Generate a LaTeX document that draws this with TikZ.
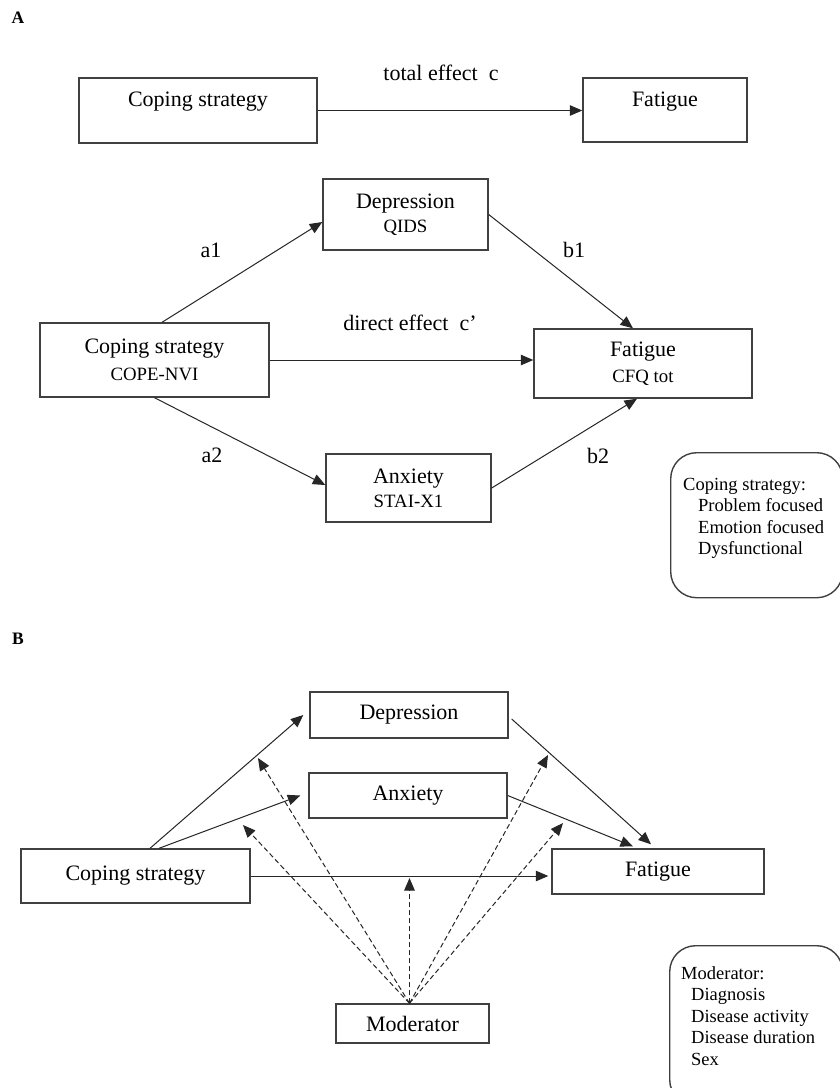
\documentclass[tikz,border=0pt]{standalone}
\usepackage{fontspec}
\setmainfont{Liberation Serif}
\usetikzlibrary{arrows.meta}

% type sizes used in the two panels
\newcommand\mainsize{\fontsize{22}{24}\selectfont}
\newcommand\subsize{\fontsize{18.8}{21}\selectfont}
\newcommand\legendsize{\fontsize{18.5}{21.4}\selectfont}

\tikzset{
  box/.style={draw=black!75, line width=1.4pt, inner sep=0pt, align=center, font=\mainsize},
  link/.style={draw=black!85, line width=1pt, -{Triangle[length=12.5pt,width=10.5pt]}},
  modlink/.style={link, dash pattern=on 5pt off 3pt},
  legendbox/.style={draw=black!75, line width=1.4pt, rounded corners=26pt, inner sep=0pt},
  legendtext/.style={font=\legendsize, align=left, inner sep=0pt, anchor=north west},
  lbl/.style={font=\mainsize, inner sep=0pt},
  panel/.style={font=\fontsize{17.5}{20}\selectfont\bfseries, inner sep=0pt}
}

\begin{document}
\begin{tikzpicture}[x=1pt,y=-1pt]
\useasboundingbox (0,0) rectangle (840,1088);
\fill[white] (0,0) rectangle (840,1088);

% ---------------- Panel A ----------------
\node[panel] (labA) at (18,18) {A};

% total effect
\node[box, minimum width=238, minimum height=65, text height=15pt, text depth=23pt] (copT) at (198,110.5) {Coping strategy};
\node[box, minimum width=164, minimum height=64, text height=15pt, text depth=23pt] (fatT) at (665,110) {Fatigue};
\draw[link] (copT.east) -- (copT.east -| fatT.west);
\node[lbl] (lblTot) at (441,73) {total effect\ \ c};

% mediation model
\node[box, minimum width=165, minimum height=71] (depA) at (405.5,214.5) {Depression\\{\subsize QIDS}};
\node[box, minimum width=229, minimum height=74] (copA) at (154.5,360) {Coping strategy\\[3pt]{\subsize COPE-NVI}};
\node[box, minimum width=218, minimum height=69] (fatA) at (643,363.5) {Fatigue\\[2pt]{\subsize CFQ tot}};
\node[box, minimum width=165, minimum height=68] (anxA) at (408.5,488) {Anxiety\\{\subsize STAI-X1}};

\draw[link] ([xshift=7.5pt]copA.north) -- ([yshift=-7.5pt]depA.west);
\draw[link] (copA.south) -- ([yshift=3pt]anxA.west);
\draw[link] (depA.east) -- ([xshift=-10pt]fatA.north);
\draw[link] (anxA.east) -- ([xshift=-6pt]fatA.south);
\draw[link] (copA.east) -- (copA.east -| fatA.west);

\node[lbl] (lblA1) at (211,250) {a1};
\node[lbl] (lblA2) at (212,455) {a2};
\node[lbl] (lblB1) at (574,250) {b1};
\node[lbl] (lblB2) at (598,456) {b2};
\node[lbl] (lblDir) at (410,323) {direct effect\ \ c’};

% legend
\node[legendbox, minimum width=172, minimum height=145, anchor=north west] (legA) at (670,452) {};
\node[legendtext] (legAtxt) at (683,478) {Coping strategy:\\\hspace*{15pt}Problem focused\\\hspace*{15pt}Emotion focused\\\hspace*{15pt}Dysfunctional};

% ---------------- Panel B ----------------
\node[panel] (labB) at (18,639) {B};

\node[box, minimum width=198, minimum height=46] (depB) at (409,715) {Depression};
\node[box, minimum width=198, minimum height=45] (anxB) at (408,795.5) {Anxiety};
\node[box, minimum width=229, minimum height=54] (copB) at (135.5,876) {Coping strategy};
\node[box, minimum width=212, minimum height=45] (fatB) at (658,871.5) {Fatigue};
\node[box, minimum width=153, minimum height=39] (modB) at (412.5,1023.5) {Moderator};

% paths of the mediation model
\draw[link] ([xshift=14.5pt]copB.north) -- ([xshift=-6pt]depB.west);
\draw[link] ([xshift=23.5pt]copB.north) -- ([xshift=-8pt]anxB.west);
\draw[link] (copB.east) -- ([xshift=-3pt]copB.east -| fatB.west);
\draw[link] ([xshift=3pt,yshift=-4pt]depB.east) -- ([xshift=-7pt,yshift=4pt]fatB.north);
\draw[link] (anxB.east) -- ([xshift=-25pt,yshift=2pt]fatB.north);

% moderation of each path
\coordinate (mDepIn) at (258,758);
\coordinate (mAnxIn) at (243,825);
\coordinate (mDir) at (409.5,878);
\coordinate (mDepOut) at (548,755);
\coordinate (mAnxOut) at (563,823);
\coordinate (mSrc) at ([xshift=-3pt]modB.north);
\foreach \t in {mDepIn,mAnxIn,mDir,mDepOut,mAnxOut}
  \draw[modlink] (mSrc) -- (\t);

% legend
\node[legendbox, minimum width=173, minimum height=160, anchor=north west] (legB) at (669,945) {};
\node[legendtext] (legBtxt) at (681,966.5) {Moderator:\\\hspace*{10pt}Diagnosis\\\hspace*{10pt}Disease activity\\\hspace*{10pt}Disease duration\\\hspace*{10pt}Sex};

\end{tikzpicture}
\end{document}
